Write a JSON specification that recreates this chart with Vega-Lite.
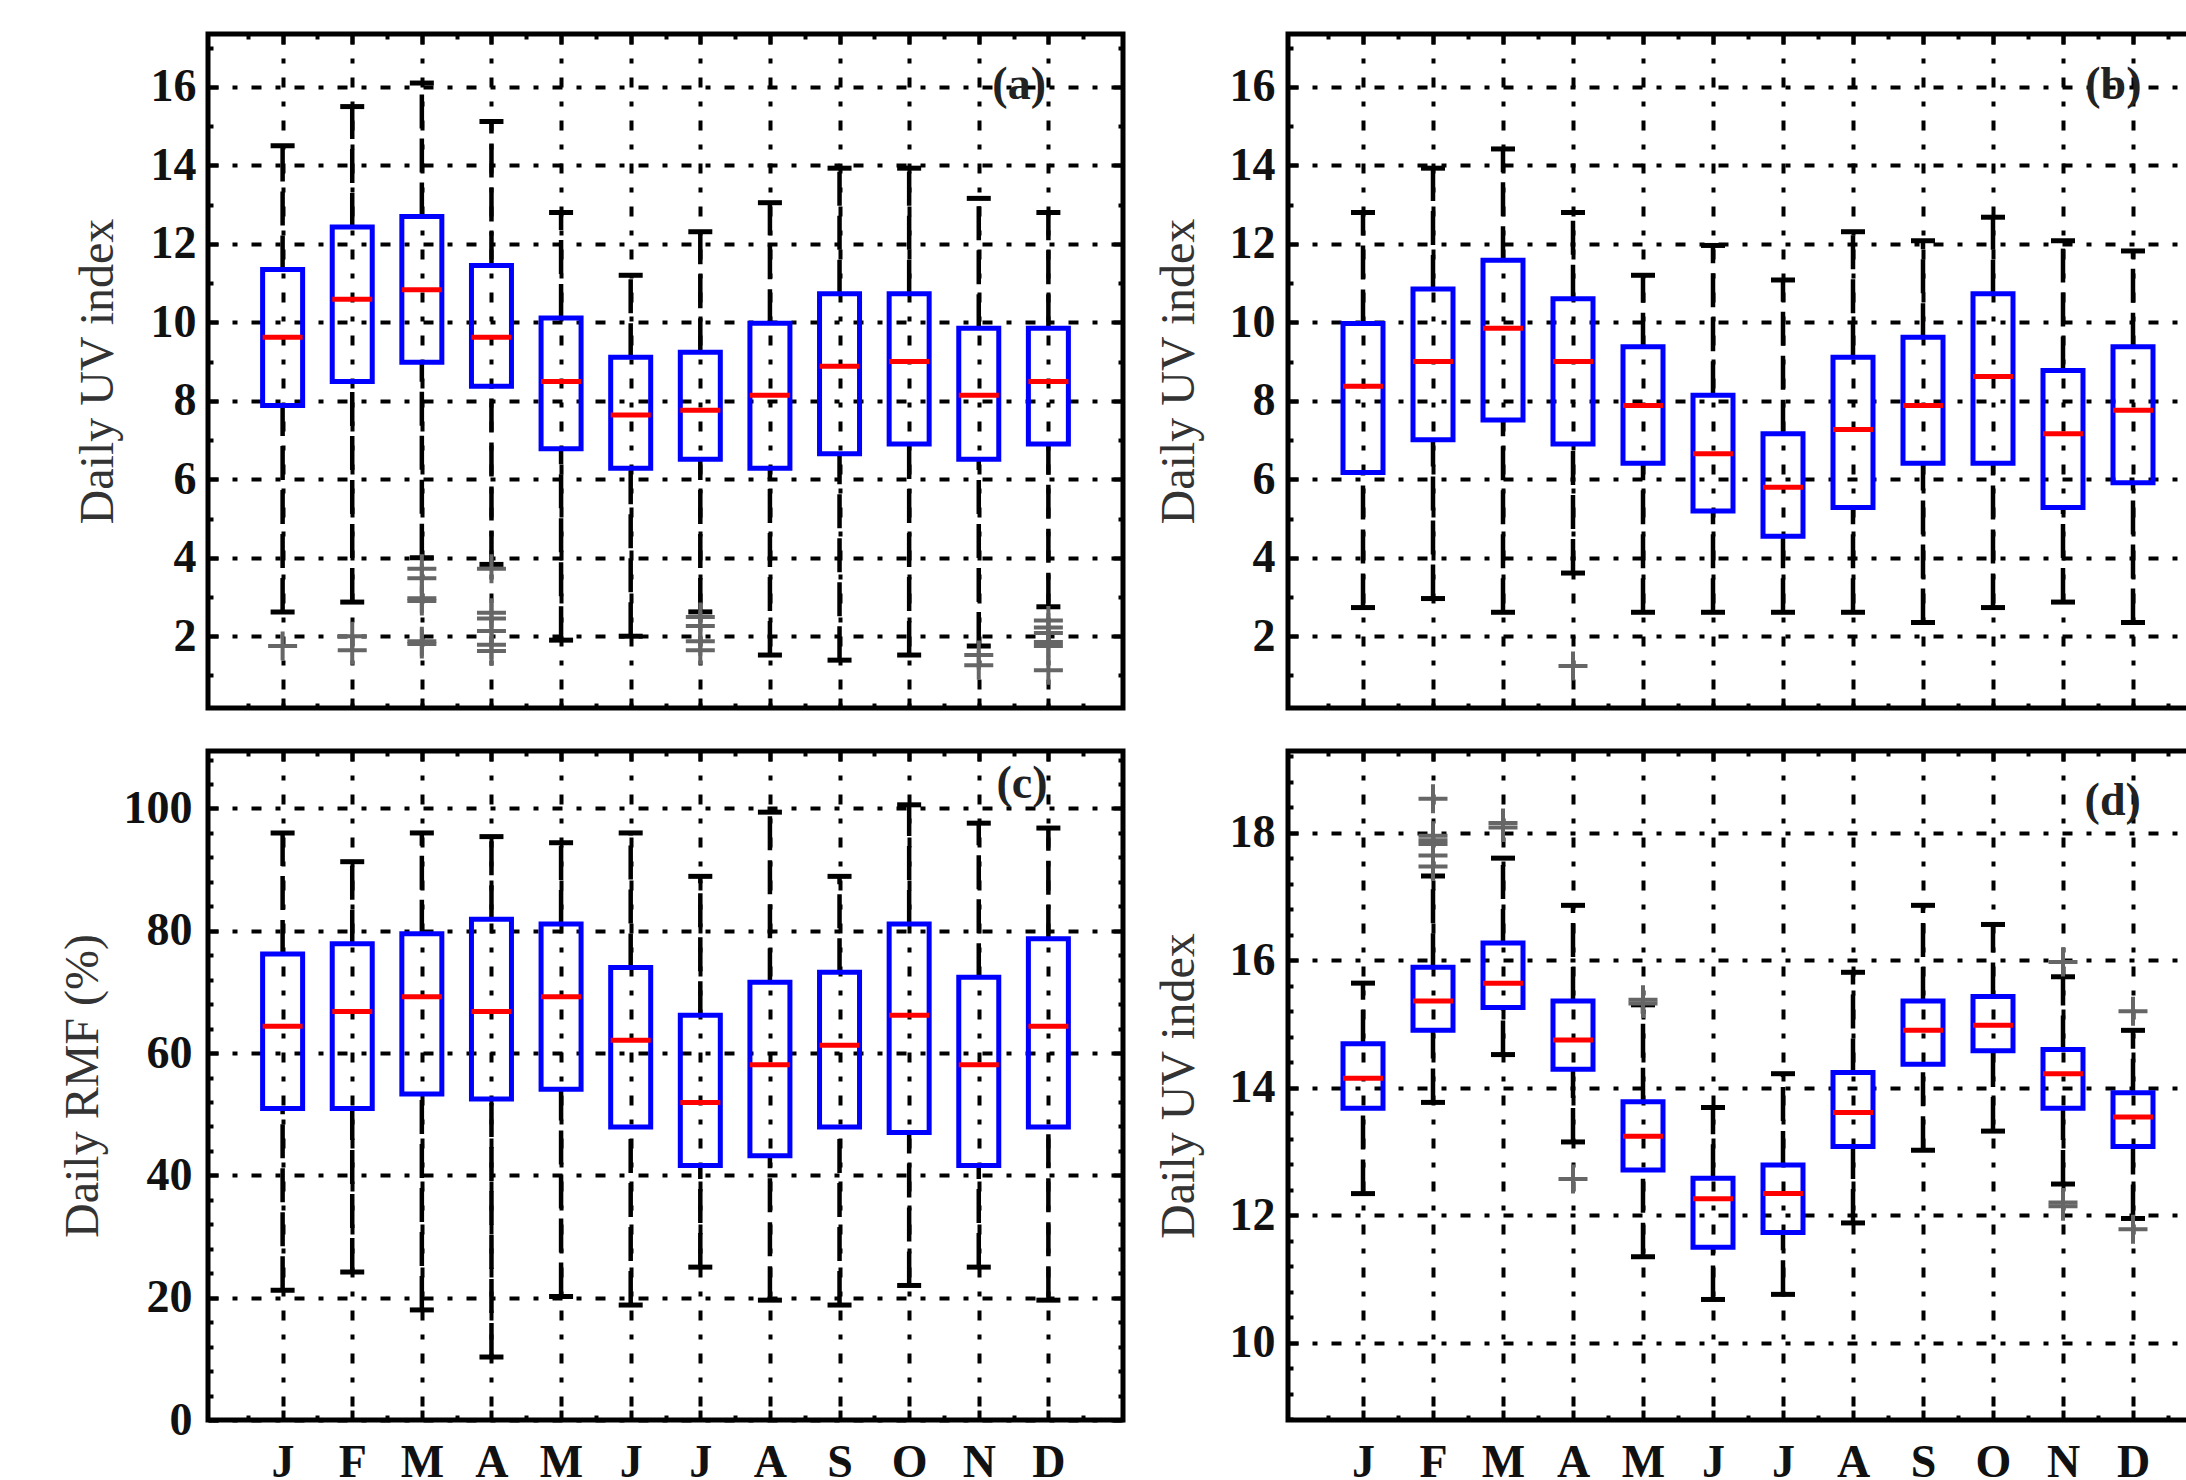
{
  "$schema": "https://vega.github.io/schema/vega-lite/v6.json",
  "padding": {"left": 56, "top": 29, "right": -27, "bottom": -8},
  "background": "white",
  "config": {
    "view": {"stroke": "black", "strokeWidth": 5},
    "axis": {
      "labelFont": "Liberation Serif", "labelFontSize": 46, "labelFontWeight": "bold", "labelColor": "#111",
      "titleFont": "Liberation Serif", "titleFontSize": 48, "titleFontWeight": "normal", "titleColor": "#333",
      "tickColor": "black", "tickWidth": 4, "gridColor": "black", "gridWidth": 4, "gridDash": [10, 14, 5, 14],
      "domain": false, "labelOverlap": false, "labelFlush": false
    }
  },
  "datasets": {
    "box": [
      {"p": "a", "m": 1, "lo": 2.62, "q1": 7.88, "med": 9.62, "q3": 11.35, "hi": 14.5},
      {"p": "a", "m": 2, "lo": 2.87, "q1": 8.49, "med": 10.59, "q3": 12.43, "hi": 15.5},
      {"p": "a", "m": 3, "lo": 4.0, "q1": 8.98, "med": 10.83, "q3": 12.7, "hi": 16.1},
      {"p": "a", "m": 4, "lo": 3.83, "q1": 8.37, "med": 9.62, "q3": 11.45, "hi": 15.12},
      {"p": "a", "m": 5, "lo": 1.9, "q1": 6.78, "med": 8.49, "q3": 10.11, "hi": 12.8},
      {"p": "a", "m": 6, "lo": 2.0, "q1": 6.28, "med": 7.64, "q3": 9.11, "hi": 11.2},
      {"p": "a", "m": 7, "lo": 2.62, "q1": 6.51, "med": 7.76, "q3": 9.24, "hi": 12.31},
      {"p": "a", "m": 8, "lo": 1.52, "q1": 6.28, "med": 8.14, "q3": 9.98, "hi": 13.05},
      {"p": "a", "m": 9, "lo": 1.39, "q1": 6.65, "med": 8.88, "q3": 10.73, "hi": 13.93},
      {"p": "a", "m": 10, "lo": 1.52, "q1": 6.9, "med": 9.0, "q3": 10.73, "hi": 13.93},
      {"p": "a", "m": 11, "lo": 1.75, "q1": 6.51, "med": 8.14, "q3": 9.85, "hi": 13.16},
      {"p": "a", "m": 12, "lo": 2.75, "q1": 6.9, "med": 8.49, "q3": 9.85, "hi": 12.8},
      {"p": "b", "m": 1, "lo": 2.73, "q1": 6.17, "med": 8.37, "q3": 9.97, "hi": 12.8},
      {"p": "b", "m": 2, "lo": 2.96, "q1": 7.01, "med": 9.0, "q3": 10.85, "hi": 13.93},
      {"p": "b", "m": 3, "lo": 2.61, "q1": 7.51, "med": 9.85, "q3": 11.58, "hi": 14.42},
      {"p": "b", "m": 4, "lo": 3.61, "q1": 6.9, "med": 9.0, "q3": 10.6, "hi": 12.8},
      {"p": "b", "m": 5, "lo": 2.61, "q1": 6.41, "med": 7.88, "q3": 9.38, "hi": 11.2},
      {"p": "b", "m": 6, "lo": 2.61, "q1": 5.19, "med": 6.65, "q3": 8.14, "hi": 11.96},
      {"p": "b", "m": 7, "lo": 2.61, "q1": 4.55, "med": 5.8, "q3": 7.16, "hi": 11.08},
      {"p": "b", "m": 8, "lo": 2.61, "q1": 5.28, "med": 7.27, "q3": 9.11, "hi": 12.31},
      {"p": "b", "m": 9, "lo": 2.35, "q1": 6.41, "med": 7.88, "q3": 9.62, "hi": 12.08},
      {"p": "b", "m": 10, "lo": 2.73, "q1": 6.41, "med": 8.62, "q3": 10.73, "hi": 12.68},
      {"p": "b", "m": 11, "lo": 2.87, "q1": 5.28, "med": 7.16, "q3": 8.77, "hi": 12.08},
      {"p": "b", "m": 12, "lo": 2.35, "q1": 5.91, "med": 7.76, "q3": 9.38, "hi": 11.82},
      {"p": "c", "m": 1, "lo": 21.2, "q1": 50.95, "med": 64.4, "q3": 76.2, "hi": 96.0},
      {"p": "c", "m": 2, "lo": 24.2, "q1": 50.95, "med": 66.8, "q3": 77.9, "hi": 91.3},
      {"p": "c", "m": 3, "lo": 18.0, "q1": 53.3, "med": 69.2, "q3": 79.5, "hi": 96.0},
      {"p": "c", "m": 4, "lo": 10.3, "q1": 52.5, "med": 66.8, "q3": 81.9, "hi": 95.4},
      {"p": "c", "m": 5, "lo": 20.2, "q1": 54.1, "med": 69.2, "q3": 81.1, "hi": 94.4},
      {"p": "c", "m": 6, "lo": 18.8, "q1": 47.9, "med": 62.1, "q3": 74.0, "hi": 96.0},
      {"p": "c", "m": 7, "lo": 25.0, "q1": 41.6, "med": 51.9, "q3": 66.2, "hi": 88.9},
      {"p": "c", "m": 8, "lo": 19.6, "q1": 43.2, "med": 58.1, "q3": 71.6, "hi": 99.4},
      {"p": "c", "m": 9, "lo": 18.8, "q1": 47.9, "med": 61.3, "q3": 73.2, "hi": 88.9},
      {"p": "c", "m": 10, "lo": 22.0, "q1": 47.0, "med": 66.2, "q3": 81.1, "hi": 100.6},
      {"p": "c", "m": 11, "lo": 25.0, "q1": 41.6, "med": 58.1, "q3": 72.4, "hi": 97.6},
      {"p": "c", "m": 12, "lo": 19.6, "q1": 47.9, "med": 64.4, "q3": 78.7, "hi": 96.8},
      {"p": "d", "m": 1, "lo": 12.34, "q1": 13.68, "med": 14.15, "q3": 14.69, "hi": 15.64},
      {"p": "d", "m": 2, "lo": 13.77, "q1": 14.9, "med": 15.36, "q3": 15.89, "hi": 17.32},
      {"p": "d", "m": 3, "lo": 14.52, "q1": 15.26, "med": 15.64, "q3": 16.27, "hi": 17.6},
      {"p": "d", "m": 4, "lo": 13.15, "q1": 14.29, "med": 14.75, "q3": 15.36, "hi": 16.86},
      {"p": "d", "m": 5, "lo": 11.35, "q1": 12.71, "med": 13.24, "q3": 13.78, "hi": 15.3},
      {"p": "d", "m": 6, "lo": 10.68, "q1": 11.5, "med": 12.26, "q3": 12.58, "hi": 13.69},
      {"p": "d", "m": 7, "lo": 10.76, "q1": 11.73, "med": 12.34, "q3": 12.79, "hi": 14.22},
      {"p": "d", "m": 8, "lo": 11.88, "q1": 13.08, "med": 13.61, "q3": 14.24, "hi": 15.81},
      {"p": "d", "m": 9, "lo": 13.02, "q1": 14.37, "med": 14.9, "q3": 15.36, "hi": 16.86},
      {"p": "d", "m": 10, "lo": 13.32, "q1": 14.58, "med": 14.98, "q3": 15.43, "hi": 16.56},
      {"p": "d", "m": 11, "lo": 12.49, "q1": 13.68, "med": 14.22, "q3": 14.6, "hi": 15.74},
      {"p": "d", "m": 12, "lo": 11.95, "q1": 13.08, "med": 13.54, "q3": 13.92, "hi": 14.9}
    ],
    "out": [
      {"p": "a", "m": 1, "v": 1.75},
      {"p": "a", "m": 2, "v": 2.0}, {"p": "a", "m": 2, "v": 1.64},
      {"p": "a", "m": 3, "v": 3.72}, {"p": "a", "m": 3, "v": 3.48}, {"p": "a", "m": 3, "v": 2.97}, {"p": "a", "m": 3, "v": 2.9}, {"p": "a", "m": 3, "v": 1.87}, {"p": "a", "m": 3, "v": 1.8},
      {"p": "a", "m": 4, "v": 3.72}, {"p": "a", "m": 4, "v": 2.6}, {"p": "a", "m": 4, "v": 2.45}, {"p": "a", "m": 4, "v": 2.13}, {"p": "a", "m": 4, "v": 1.78}, {"p": "a", "m": 4, "v": 1.62},
      {"p": "a", "m": 7, "v": 2.49}, {"p": "a", "m": 7, "v": 2.26}, {"p": "a", "m": 7, "v": 1.87}, {"p": "a", "m": 7, "v": 1.64},
      {"p": "a", "m": 11, "v": 1.52}, {"p": "a", "m": 11, "v": 1.26},
      {"p": "a", "m": 12, "v": 2.4}, {"p": "a", "m": 12, "v": 2.22}, {"p": "a", "m": 12, "v": 2.08}, {"p": "a", "m": 12, "v": 1.85}, {"p": "a", "m": 12, "v": 1.75}, {"p": "a", "m": 12, "v": 1.13},
      {"p": "b", "m": 4, "v": 1.24},
      {"p": "d", "m": 2, "v": 18.53}, {"p": "d", "m": 2, "v": 17.95}, {"p": "d", "m": 2, "v": 17.88}, {"p": "d", "m": 2, "v": 17.82}, {"p": "d", "m": 2, "v": 17.64}, {"p": "d", "m": 2, "v": 17.47},
      {"p": "d", "m": 3, "v": 18.15}, {"p": "d", "m": 3, "v": 18.08},
      {"p": "d", "m": 4, "v": 12.57},
      {"p": "d", "m": 5, "v": 15.38}, {"p": "d", "m": 5, "v": 15.32},
      {"p": "d", "m": 11, "v": 15.97}, {"p": "d", "m": 11, "v": 12.2}, {"p": "d", "m": 11, "v": 12.14},
      {"p": "d", "m": 12, "v": 15.2}, {"p": "d", "m": 12, "v": 11.78}
    ],
    "lab": [
      {"p": "a", "x": 11.58, "y": 16.05, "t": "(a)"},
      {"p": "b", "x": 11.72, "y": 16.05, "t": "(b)"},
      {"p": "c", "x": 11.62, "y": 104.0, "t": "(c)"},
      {"p": "d", "x": 11.71, "y": 18.5, "t": "(d)"}
    ]
  },
  "columns": 2,
  "align": "none",
  "spacing": {"row": 33, "column": 24},
  "concat": [
    {
      "width": 915, "height": 674,
      "resolve": {"axis": {"x": "independent", "y": "independent"}},
      "layer": [
        {"data": {"name": "box"}, "transform": [{"filter": "datum.p === 'a'"}],
         "mark": {"type": "rule", "color": "black", "strokeWidth": 4.5, "strokeDash": [34, 10]},
         "encoding": {
           "x": {"field": "m", "type": "quantitative", "scale": {"domain": [0, 13], "nice": false, "zero": false},
                 "axis": {"orient": "bottom", "title": null, "labels": false, "values": [0.5,1,1.5,2,2.5,3,3.5,4,4.5,5,5.5,6,6.5,7,7.5,8,8.5,9,9.5,10,10.5,11,11.5,12,12.5],
                          "tickSize": {"condition": {"test": "datum.value % 1 === 0", "value": -10}, "value": -5},
                          "grid": true, "gridOpacity": {"condition": {"test": "datum.value % 1 === 0", "value": 1}, "value": 0}}},
           "y": {"field": "lo", "type": "quantitative", "scale": {"domain": [0.17, 17.35], "nice": false, "zero": false},
                 "axis": {"orient": "left", "title": "Daily UV index", "titlePadding": 28, "labelPadding": 22,
                          "values": [1,2,3,4,5,6,7,8,9,10,11,12,13,14,15,16,17],
                          "tickSize": {"condition": {"test": "datum.value % 2 === 0", "value": -10}, "value": -5},
                          "labelExpr": "datum.value % 2 === 0 ? format(datum.value, 'd') : ''",
                          "labelFontSize": {"condition": {"test": "datum.value % 2 === 0", "value": 46}, "value": 0},
                          "grid": true, "gridOpacity": {"condition": {"test": "datum.value % 2 === 0", "value": 1}, "value": 0}}},
           "y2": {"field": "q1"}
         }},
        {"data": {"name": "box"}, "transform": [{"filter": "datum.p === 'a'"}],
         "mark": {"type": "rule", "color": "black", "strokeWidth": 4.5, "strokeDash": [34, 10]},
         "encoding": {
           "x": {"field": "m", "type": "quantitative",
                 "axis": {"orient": "top", "title": null, "labels": false, "grid": false, "values": [0.5,1,1.5,2,2.5,3,3.5,4,4.5,5,5.5,6,6.5,7,7.5,8,8.5,9,9.5,10,10.5,11,11.5,12,12.5],
                          "tickSize": {"condition": {"test": "datum.value % 1 === 0", "value": -10}, "value": -5}}},
           "y": {"field": "q3", "type": "quantitative",
                 "axis": {"orient": "right", "title": null, "labels": false, "grid": false, "values": [1,2,3,4,5,6,7,8,9,10,11,12,13,14,15,16,17],
                          "tickSize": {"condition": {"test": "datum.value % 2 === 0", "value": -10}, "value": -5}}},
           "y2": {"field": "hi"}
         }},
        {"data": {"name": "box"}, "transform": [{"filter": "datum.p === 'a'"}],
         "mark": {"type": "bar", "size": 40, "fill": "transparent", "stroke": "#0000ff", "strokeWidth": 5},
         "encoding": {"x": {"field": "m", "type": "quantitative", "axis": null}, "y": {"field": "q1", "type": "quantitative", "axis": null}, "y2": {"field": "q3"}}},
        {"data": {"name": "box"}, "transform": [{"filter": "datum.p === 'a'"}],
         "mark": {"type": "tick", "orient": "horizontal", "size": 24, "thickness": 5, "color": "black", "opacity": 1},
         "encoding": {"x": {"field": "m", "type": "quantitative", "axis": null}, "y": {"field": "lo", "type": "quantitative", "axis": null}}},
        {"data": {"name": "box"}, "transform": [{"filter": "datum.p === 'a'"}],
         "mark": {"type": "tick", "orient": "horizontal", "size": 24, "thickness": 5, "color": "black", "opacity": 1},
         "encoding": {"x": {"field": "m", "type": "quantitative", "axis": null}, "y": {"field": "hi", "type": "quantitative", "axis": null}}},
        {"data": {"name": "box"}, "transform": [{"filter": "datum.p === 'a'"}],
         "mark": {"type": "tick", "orient": "horizontal", "size": 40, "thickness": 5, "color": "#ff0000", "opacity": 1},
         "encoding": {"x": {"field": "m", "type": "quantitative", "axis": null}, "y": {"field": "med", "type": "quantitative", "axis": null}}},
        {"data": {"name": "out"}, "transform": [{"filter": "datum.p === 'a'"}],
         "mark": {"type": "point", "shape": "M-1,0L1,0M0,-1L0,1", "size": 841, "filled": false, "stroke": "#666666", "strokeWidth": 4, "opacity": 1},
         "encoding": {"x": {"field": "m", "type": "quantitative", "axis": null}, "y": {"field": "v", "type": "quantitative", "axis": null}}},
        {"data": {"name": "lab"}, "transform": [{"filter": "datum.p === 'a'"}],
         "mark": {"type": "text", "font": "Liberation Serif", "fontSize": 46, "fontWeight": "bold", "color": "#222", "align": "center", "baseline": "middle"},
         "encoding": {"x": {"field": "x", "type": "quantitative", "axis": null}, "y": {"field": "y", "type": "quantitative", "axis": null}, "text": {"field": "t"}}}
      ]
    },
    {
      "width": 920, "height": 674,
      "resolve": {"axis": {"x": "independent", "y": "independent"}},
      "layer": [
        {"data": {"name": "box"}, "transform": [{"filter": "datum.p === 'b'"}],
         "mark": {"type": "rule", "color": "black", "strokeWidth": 4.5, "strokeDash": [34, 10]},
         "encoding": {
           "x": {"field": "m", "type": "quantitative", "scale": {"domain": [0, 13], "nice": false, "zero": false},
                 "axis": {"orient": "bottom", "title": null, "labels": false, "values": [0.5,1,1.5,2,2.5,3,3.5,4,4.5,5,5.5,6,6.5,7,7.5,8,8.5,9,9.5,10,10.5,11,11.5,12,12.5],
                          "tickSize": {"condition": {"test": "datum.value % 1 === 0", "value": -10}, "value": -5},
                          "grid": true, "gridOpacity": {"condition": {"test": "datum.value % 1 === 0", "value": 1}, "value": 0}}},
           "y": {"field": "lo", "type": "quantitative", "scale": {"domain": [0.17, 17.35], "nice": false, "zero": false},
                 "axis": {"orient": "left", "title": "Daily UV index", "titlePadding": 26, "labelPadding": 23,
                          "values": [1,2,3,4,5,6,7,8,9,10,11,12,13,14,15,16,17],
                          "tickSize": {"condition": {"test": "datum.value % 2 === 0", "value": -10}, "value": -5},
                          "labelExpr": "datum.value % 2 === 0 ? format(datum.value, 'd') : ''",
                          "labelFontSize": {"condition": {"test": "datum.value % 2 === 0", "value": 46}, "value": 0},
                          "grid": true, "gridOpacity": {"condition": {"test": "datum.value % 2 === 0", "value": 1}, "value": 0}}},
           "y2": {"field": "q1"}
         }},
        {"data": {"name": "box"}, "transform": [{"filter": "datum.p === 'b'"}],
         "mark": {"type": "rule", "color": "black", "strokeWidth": 4.5, "strokeDash": [34, 10]},
         "encoding": {
           "x": {"field": "m", "type": "quantitative",
                 "axis": {"orient": "top", "title": null, "labels": false, "grid": false, "values": [0.5,1,1.5,2,2.5,3,3.5,4,4.5,5,5.5,6,6.5,7,7.5,8,8.5,9,9.5,10,10.5,11,11.5,12,12.5],
                          "tickSize": {"condition": {"test": "datum.value % 1 === 0", "value": -10}, "value": -5}}},
           "y": {"field": "q3", "type": "quantitative",
                 "axis": {"orient": "right", "title": null, "labels": false, "grid": false, "values": [1,2,3,4,5,6,7,8,9,10,11,12,13,14,15,16,17],
                          "tickSize": {"condition": {"test": "datum.value % 2 === 0", "value": -10}, "value": -5}}},
           "y2": {"field": "hi"}
         }},
        {"data": {"name": "box"}, "transform": [{"filter": "datum.p === 'b'"}],
         "mark": {"type": "bar", "size": 40, "fill": "transparent", "stroke": "#0000ff", "strokeWidth": 5},
         "encoding": {"x": {"field": "m", "type": "quantitative", "axis": null}, "y": {"field": "q1", "type": "quantitative", "axis": null}, "y2": {"field": "q3"}}},
        {"data": {"name": "box"}, "transform": [{"filter": "datum.p === 'b'"}],
         "mark": {"type": "tick", "orient": "horizontal", "size": 24, "thickness": 5, "color": "black", "opacity": 1},
         "encoding": {"x": {"field": "m", "type": "quantitative", "axis": null}, "y": {"field": "lo", "type": "quantitative", "axis": null}}},
        {"data": {"name": "box"}, "transform": [{"filter": "datum.p === 'b'"}],
         "mark": {"type": "tick", "orient": "horizontal", "size": 24, "thickness": 5, "color": "black", "opacity": 1},
         "encoding": {"x": {"field": "m", "type": "quantitative", "axis": null}, "y": {"field": "hi", "type": "quantitative", "axis": null}}},
        {"data": {"name": "box"}, "transform": [{"filter": "datum.p === 'b'"}],
         "mark": {"type": "tick", "orient": "horizontal", "size": 40, "thickness": 5, "color": "#ff0000", "opacity": 1},
         "encoding": {"x": {"field": "m", "type": "quantitative", "axis": null}, "y": {"field": "med", "type": "quantitative", "axis": null}}},
        {"data": {"name": "out"}, "transform": [{"filter": "datum.p === 'b'"}],
         "mark": {"type": "point", "shape": "M-1,0L1,0M0,-1L0,1", "size": 841, "filled": false, "stroke": "#666666", "strokeWidth": 4, "opacity": 1},
         "encoding": {"x": {"field": "m", "type": "quantitative", "axis": null}, "y": {"field": "v", "type": "quantitative", "axis": null}}},
        {"data": {"name": "lab"}, "transform": [{"filter": "datum.p === 'b'"}],
         "mark": {"type": "text", "font": "Liberation Serif", "fontSize": 46, "fontWeight": "bold", "color": "#222", "align": "center", "baseline": "middle"},
         "encoding": {"x": {"field": "x", "type": "quantitative", "axis": null}, "y": {"field": "y", "type": "quantitative", "axis": null}, "text": {"field": "t"}}}
      ]
    },
    {
      "width": 915, "height": 669,
      "resolve": {"axis": {"x": "independent", "y": "independent"}},
      "layer": [
        {"data": {"name": "box"}, "transform": [{"filter": "datum.p === 'c'"}],
         "mark": {"type": "rule", "color": "black", "strokeWidth": 4.5, "strokeDash": [34, 10]},
         "encoding": {
           "x": {"field": "m", "type": "quantitative", "scale": {"domain": [0, 13], "nice": false, "zero": false},
                 "axis": {"orient": "bottom", "title": null, "labelPadding": 30, "values": [0.5,1,1.5,2,2.5,3,3.5,4,4.5,5,5.5,6,6.5,7,7.5,8,8.5,9,9.5,10,10.5,11,11.5,12,12.5],
                          "labelExpr": "datum.value % 1 === 0 ? ['','J','F','M','A','M','J','J','A','S','O','N','D'][datum.value] : ''",
                          "labelBaseline": "top",
                          "tickSize": {"condition": {"test": "datum.value % 1 === 0", "value": -10}, "value": -5},
                          "grid": true, "gridOpacity": {"condition": {"test": "datum.value % 1 === 0", "value": 1}, "value": 0}}},
           "y": {"field": "lo", "type": "quantitative", "scale": {"domain": [0, 109.4], "nice": false, "zero": false},
                 "axis": {"orient": "left", "title": "Daily RMF (%)", "titlePadding": 16, "labelPadding": 26,
                          "values": [0,4,8,12,16,20,24,28,32,36,40,44,48,52,56,60,64,68,72,76,80,84,88,92,96,100,104,108],
                          "tickSize": {"condition": {"test": "datum.value % 20 === 0", "value": -10}, "value": -5},
                          "labelExpr": "datum.value % 20 === 0 ? format(datum.value, 'd') : ''",
                          "labelFontSize": {"condition": {"test": "datum.value % 20 === 0", "value": 46}, "value": 0},
                          "grid": true, "gridOpacity": {"condition": {"test": "datum.value % 20 === 0", "value": 1}, "value": 0}}},
           "y2": {"field": "q1"}
         }},
        {"data": {"name": "box"}, "transform": [{"filter": "datum.p === 'c'"}],
         "mark": {"type": "rule", "color": "black", "strokeWidth": 4.5, "strokeDash": [34, 10]},
         "encoding": {
           "x": {"field": "m", "type": "quantitative",
                 "axis": {"orient": "top", "title": null, "labels": false, "grid": false, "values": [0.5,1,1.5,2,2.5,3,3.5,4,4.5,5,5.5,6,6.5,7,7.5,8,8.5,9,9.5,10,10.5,11,11.5,12,12.5],
                          "tickSize": {"condition": {"test": "datum.value % 1 === 0", "value": -10}, "value": -5}}},
           "y": {"field": "q3", "type": "quantitative",
                 "axis": {"orient": "right", "title": null, "labels": false, "grid": false, "values": [0,4,8,12,16,20,24,28,32,36,40,44,48,52,56,60,64,68,72,76,80,84,88,92,96,100,104,108],
                          "tickSize": {"condition": {"test": "datum.value % 20 === 0", "value": -10}, "value": -5}}},
           "y2": {"field": "hi"}
         }},
        {"data": {"name": "box"}, "transform": [{"filter": "datum.p === 'c'"}],
         "mark": {"type": "bar", "size": 40, "fill": "transparent", "stroke": "#0000ff", "strokeWidth": 5},
         "encoding": {"x": {"field": "m", "type": "quantitative", "axis": null}, "y": {"field": "q1", "type": "quantitative", "axis": null}, "y2": {"field": "q3"}}},
        {"data": {"name": "box"}, "transform": [{"filter": "datum.p === 'c'"}],
         "mark": {"type": "tick", "orient": "horizontal", "size": 24, "thickness": 5, "color": "black", "opacity": 1},
         "encoding": {"x": {"field": "m", "type": "quantitative", "axis": null}, "y": {"field": "lo", "type": "quantitative", "axis": null}}},
        {"data": {"name": "box"}, "transform": [{"filter": "datum.p === 'c'"}],
         "mark": {"type": "tick", "orient": "horizontal", "size": 24, "thickness": 5, "color": "black", "opacity": 1},
         "encoding": {"x": {"field": "m", "type": "quantitative", "axis": null}, "y": {"field": "hi", "type": "quantitative", "axis": null}}},
        {"data": {"name": "box"}, "transform": [{"filter": "datum.p === 'c'"}],
         "mark": {"type": "tick", "orient": "horizontal", "size": 40, "thickness": 5, "color": "#ff0000", "opacity": 1},
         "encoding": {"x": {"field": "m", "type": "quantitative", "axis": null}, "y": {"field": "med", "type": "quantitative", "axis": null}}},
        {"data": {"name": "lab"}, "transform": [{"filter": "datum.p === 'c'"}],
         "mark": {"type": "text", "font": "Liberation Serif", "fontSize": 46, "fontWeight": "bold", "color": "#222", "align": "center", "baseline": "middle"},
         "encoding": {"x": {"field": "x", "type": "quantitative", "axis": null}, "y": {"field": "y", "type": "quantitative", "axis": null}, "text": {"field": "t"}}}
      ]
    },
    {
      "width": 920, "height": 669,
      "resolve": {"axis": {"x": "independent", "y": "independent"}},
      "layer": [
        {"data": {"name": "box"}, "transform": [{"filter": "datum.p === 'd'"}],
         "mark": {"type": "rule", "color": "black", "strokeWidth": 4.5, "strokeDash": [34, 10]},
         "encoding": {
           "x": {"field": "m", "type": "quantitative", "scale": {"domain": [0, 13], "nice": false, "zero": false},
                 "axis": {"orient": "bottom", "title": null, "labelPadding": 30, "values": [0.5,1,1.5,2,2.5,3,3.5,4,4.5,5,5.5,6,6.5,7,7.5,8,8.5,9,9.5,10,10.5,11,11.5,12,12.5],
                          "labelExpr": "datum.value % 1 === 0 ? ['','J','F','M','A','M','J','J','A','S','O','N','D'][datum.value] : ''",
                          "labelBaseline": "top",
                          "tickSize": {"condition": {"test": "datum.value % 1 === 0", "value": -10}, "value": -5},
                          "grid": true, "gridOpacity": {"condition": {"test": "datum.value % 1 === 0", "value": 1}, "value": 0}}},
           "y": {"field": "lo", "type": "quantitative", "scale": {"domain": [8.79, 19.28], "nice": false, "zero": false},
                 "axis": {"orient": "left", "title": "Daily UV index", "titlePadding": 26, "labelPadding": 23,
                          "values": [8.8,9.2,9.6,10,10.4,10.8,11.2,11.6,12,12.4,12.8,13.2,13.6,14,14.4,14.8,15.2,15.6,16,16.4,16.8,17.2,17.6,18,18.4,18.8,19.2],
                          "tickSize": {"condition": {"test": "abs(datum.value - 2*round(datum.value/2)) < 0.01", "value": -10}, "value": -5},
                          "labelExpr": "abs(datum.value - 2*round(datum.value/2)) < 0.01 ? format(datum.value, 'd') : ''",
                          "labelFontSize": {"condition": {"test": "abs(datum.value - 2*round(datum.value/2)) < 0.01", "value": 46}, "value": 0},
                          "grid": true, "gridOpacity": {"condition": {"test": "abs(datum.value - 2*round(datum.value/2)) < 0.01", "value": 1}, "value": 0}}},
           "y2": {"field": "q1"}
         }},
        {"data": {"name": "box"}, "transform": [{"filter": "datum.p === 'd'"}],
         "mark": {"type": "rule", "color": "black", "strokeWidth": 4.5, "strokeDash": [34, 10]},
         "encoding": {
           "x": {"field": "m", "type": "quantitative",
                 "axis": {"orient": "top", "title": null, "labels": false, "grid": false, "values": [0.5,1,1.5,2,2.5,3,3.5,4,4.5,5,5.5,6,6.5,7,7.5,8,8.5,9,9.5,10,10.5,11,11.5,12,12.5],
                          "tickSize": {"condition": {"test": "datum.value % 1 === 0", "value": -10}, "value": -5}}},
           "y": {"field": "q3", "type": "quantitative", "axis": null},
           "y2": {"field": "hi"}
         }},
        {"data": {"name": "box"}, "transform": [{"filter": "datum.p === 'd'"}],
         "mark": {"type": "bar", "size": 40, "fill": "transparent", "stroke": "#0000ff", "strokeWidth": 5},
         "encoding": {"x": {"field": "m", "type": "quantitative", "axis": null}, "y": {"field": "q1", "type": "quantitative", "axis": null}, "y2": {"field": "q3"}}},
        {"data": {"name": "box"}, "transform": [{"filter": "datum.p === 'd'"}],
         "mark": {"type": "tick", "orient": "horizontal", "size": 24, "thickness": 5, "color": "black", "opacity": 1},
         "encoding": {"x": {"field": "m", "type": "quantitative", "axis": null}, "y": {"field": "lo", "type": "quantitative", "axis": null}}},
        {"data": {"name": "box"}, "transform": [{"filter": "datum.p === 'd'"}],
         "mark": {"type": "tick", "orient": "horizontal", "size": 24, "thickness": 5, "color": "black", "opacity": 1},
         "encoding": {"x": {"field": "m", "type": "quantitative", "axis": null}, "y": {"field": "hi", "type": "quantitative", "axis": null}}},
        {"data": {"name": "box"}, "transform": [{"filter": "datum.p === 'd'"}],
         "mark": {"type": "tick", "orient": "horizontal", "size": 40, "thickness": 5, "color": "#ff0000", "opacity": 1},
         "encoding": {"x": {"field": "m", "type": "quantitative", "axis": null}, "y": {"field": "med", "type": "quantitative", "axis": null}}},
        {"data": {"name": "out"}, "transform": [{"filter": "datum.p === 'd'"}],
         "mark": {"type": "point", "shape": "M-1,0L1,0M0,-1L0,1", "size": 841, "filled": false, "stroke": "#666666", "strokeWidth": 4, "opacity": 1},
         "encoding": {"x": {"field": "m", "type": "quantitative", "axis": null}, "y": {"field": "v", "type": "quantitative", "axis": null}}},
        {"data": {"name": "lab"}, "transform": [{"filter": "datum.p === 'd'"}],
         "mark": {"type": "text", "font": "Liberation Serif", "fontSize": 46, "fontWeight": "bold", "color": "#222", "align": "center", "baseline": "middle"},
         "encoding": {"x": {"field": "x", "type": "quantitative", "axis": null}, "y": {"field": "y", "type": "quantitative", "axis": null}, "text": {"field": "t"}}}
      ]
    }
  ]
}
